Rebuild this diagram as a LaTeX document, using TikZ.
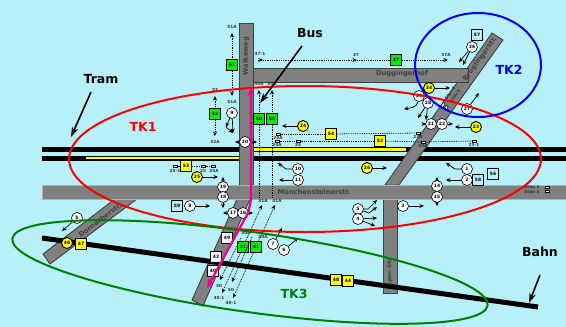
\documentclass[tikz,border=0pt]{standalone}
\usepackage{fontspec}
\setmainfont{DejaVu Sans}
\usetikzlibrary{arrows.meta}
\definecolor{skyback}{HTML}{B8F0FA}
\definecolor{streetgray}{HTML}{808080}
\definecolor{sigyellow}{HTML}{FFFF00}
\definecolor{siggreen}{HTML}{00F000}
\definecolor{tkgreen}{HTML}{008000}

\begin{document}
\begin{tikzpicture}[x=1pt, y=-1pt, >={Stealth[length=4.5pt,width=4pt]},
   street/.style={draw=black!75, line width=0.9pt, fill=streetgray},
   streetname/.style={inner sep=0pt, font=\fontsize{6.7}{7}\selectfont\bfseries, text=black!75},
   track/.style={line width=5pt, black},
   whitecirc/.style={circle, draw, fill=white, line width=0.6pt, minimum size=11pt, inner sep=0pt, font=\fontsize{4.5}{5}\selectfont\bfseries},
   yellowcirc/.style={whitecirc, fill=sigyellow, line width=0.9pt},
   greensq/.style={rectangle, draw, fill=siggreen, line width=0.9pt, minimum size=11pt, inner sep=0pt, font=\fontsize{4.5}{5}\selectfont\bfseries},
   yellowsq/.style={greensq, fill=sigyellow},
   whitesq/.style={greensq, fill=white, line width=0.6pt},
   skysq/.style={greensq, fill=skyback, line width=0.8pt},
   tag/.style={inner sep=0pt, font=\fontsize{4.2}{4.4}\selectfont\bfseries, text=black!80},
   staubox/.style={rectangle, draw, fill=white, line width=0.5pt, minimum width=4.5pt, minimum height=2.4pt, inner sep=0pt},
   arrow/.style={->, line width=0.7pt},
   sigline/.style={densely dotted, line width=0.8pt},
   sigarrow/.style={sigline, ->},
   bigarrow/.style={-{Stealth[length=10pt,width=6.5pt]}, line width=1.6pt},
   tkname/.style={inner sep=0pt, font=\fontsize{12.5}{13}\selectfont\bfseries},
   namelabel/.style={inner sep=0pt, font=\fontsize{12.5}{13}\selectfont\bfseries}
]
\useasboundingbox (0,0) rectangle (566,327);
\fill [skyback] (0,0) rectangle (566,327);

% Tracks
\draw [track] (42,149.5) -- (566,149.5);
\draw [track] (42,158) -- (566,158);
\draw [line width=2.4pt, sigyellow] (86,158) -- (240,158);
\draw [line width=2.4pt, sigyellow] (252,149.5) -- (406,149.5);

% Streets
\fill [street] (492,33) -- (503,40) -- (399,185) -- (385,185) -- cycle;
\fill [street] (253,68) rectangle (468,82);
\fill [street] (239,23) rectangle (253,186);
\fill [street] (237,199) -- (250,199) -- (203,306) -- (192,300) -- cycle;
\fill [street] (115,199) -- (137,199) -- (50,264) -- (43,254) -- cycle;
\fill [street] (383,199) rectangle (397,293);
\fill [street, draw=black!30] (42,185) rectangle (566,199);
\draw [line width=5pt] (42,238) -- (538,307);

\node [streetname, rotate=90] (walke) at (246,56) {Walkeweg};
\node [streetname] (dugg) at (402,74) {Duggingerhof};
\node [streetname, rotate=54] (brueg) at (480,59) {Brüglingerstr.};
\node [streetname] (muench) at (314,192) {Münchensteinerstr.};
\node [streetname, rotate=90, font=\fontsize{5.6}{6}\selectfont\bfseries] (lyon) at (390,272) {Lyon-Str.};
\node [streetname, rotate=37] (dorn) at (100,220) {Dornacherstr.};

% Signals
\node [greensq] (g51) at (232,65) {51};
\node [greensq] (g32) at (215,114) {32};
\node [greensq] (g50) at (259,119) {50};
\node [greensq] (g55) at (272,119) {55};
\node [greensq] (g37) at (396,60) {37};
\node [greensq] (g31) at (243,247) {31};
\node [greensq] (g41) at (256,247) {41};
\node [yellowsq] (y54) at (331,134) {54};
\node [yellowsq] (y52) at (380,141) {52};
\node [yellowsq] (y53) at (186,166) {53};
\node [yellowsq] (y47) at (81,244) {47};
\node [yellowsq] (y48) at (336,280) {48};
\node [yellowsq] (y44) at (348,281) {44};
\node [yellowcirc] (y24) at (303,126) {24};
\node [yellowcirc] (y34) at (429,88) {34};
\node [yellowcirc] (y23) at (476,127) {23};
\node [yellowcirc] (y25) at (197,177) {25};
\node [yellowcirc] (y26) at (367,168) {26};
\node [yellowcirc] (y46) at (67,243) {46};
\node [whitesq] (w49) at (227,238) {49};
\node [whitesq] (w42) at (216,257) {42};
\node [whitesq] (w40) at (213,271) {40};
\node [skysq] (s57) at (477,35) {57};
\node [skysq] (s59) at (177,206) {59};
\node [skysq] (s56) at (493,174) {56};
\node [skysq] (s58) at (478,180) {58};

\node [whitecirc] (c9) at (232,113) {9};
\node [whitecirc] (c20) at (245,142) {20};
\node [whitecirc] (c36) at (472,47) {36};
\node [whitecirc] (c30) at (419,96) {30};
\node [whitecirc] (c28) at (428,103) {28};
\node [whitecirc] (c21) at (431,124) {21};
\node [whitecirc] (c22) at (442,124) {22};
\node [whitecirc] (c27) at (467,109) {27};
\node [whitecirc] (c10) at (298,169) {10};
\node [whitecirc] (c11) at (298,180) {11};
\node [whitecirc] (c19) at (223,187) {19};
\node [whitecirc] (c18) at (223,197) {18};
\node [whitecirc] (c8) at (190,206) {8};
\node [whitecirc] (c17) at (233,213) {17};
\node [whitecirc] (c16) at (243,213) {16};
\node [whitecirc] (c7) at (273,244) {7};
\node [whitecirc] (c6) at (284,250) {6};
\node [whitecirc] (c5) at (358,209) {5};
\node [whitecirc] (c4) at (358,219) {4};
\node [whitecirc] (c3) at (403,206) {3};
\node [whitecirc] (c1) at (467,169) {1};
\node [whitecirc] (c2) at (467,180) {2};
\node [whitecirc] (c14) at (437,186) {14};
\node [whitecirc] (c15) at (437,197) {15};
\node [whitecirc] (c12) at (77,218) {5};

% Small boxes and tags
\node [staubox] (b24a) at (278,134) {};
\node [staubox] (b24b) at (277,141) {};
\node [staubox] (b24c) at (298,141) {};
\node [staubox] (b23a) at (418,133) {};
\node [staubox] (b23b) at (423,142) {};
\node [staubox] (b23c) at (474,141) {};
\node [staubox] (b25a) at (175,166) {};
\node [staubox] (b25b) at (203,166) {};
\node [staubox] (b25c) at (213,166) {};
\node [staubox] (bst1) at (547,187) {};
\node [staubox] (bst3) at (547,191) {};
\node [staubox, rotate=55] (bst4) at (443,105) {};
\node [staubox, rotate=55] (bst5) at (446,108) {};

\node [tag] (t51a) at (232,27) {51A};
\node [tag] (t51b) at (232,102) {51A};
\node [tag] (t32a) at (215,90) {32};
\node [tag] (t32b) at (215,142) {32A};
\node [tag] (t50a) at (259,84) {50A};
\node [tag] (t55a) at (272,84) {55A};
\node [tag] (t37a) at (260,54) {37-1};
\node [tag] (t37b) at (356,55) {37};
\node [tag] (t37c) at (446,55) {37A};
\node [tag] (t24a) at (278,137.5) {24A};
\node [tag] (t24b) at (277,144.5) {24A};
\node [tag] (t24c) at (298,145) {24};
\node [tag] (t23a) at (418,137) {23A};
\node [tag] (t23b) at (423,145.5) {23A};
\node [tag] (t23c) at (474,144.5) {23-1};
\node [tag] (t25a) at (175,170.5) {25-1};
\node [tag] (t25b) at (203,170.5) {25};
\node [tag] (t25c) at (214,170.5) {25A};
\node [tag] (t31a) at (263,201) {31A};
\node [tag] (t41a) at (277,201) {41A};
\node [tag] (t30a) at (246,233) {30A};
\node [tag] (t50b) at (263,237) {50A};
\node [tag] (t30b) at (219,285.5) {30};
\node [tag] (t50c) at (231,289.5) {50};
\node [tag] (t31b) at (219,298) {30-1};
\node [tag] (t41b) at (231,303) {40-1};
\node [tag] (tst1) at (532,187) {Stau 1};
\node [tag] (tst3) at (532,191.5) {Stau 3};
\node [tag, rotate=55] (tst4) at (450,93) {Stau 4};
\node [tag, rotate=55] (tst5) at (455,96) {Stau 5};

% Free ends
\coordinate (h51a) at (232,33);
\coordinate (h51b) at (232,96);
\coordinate (h32a) at (215,96);
\coordinate (h32b) at (215,136);
\coordinate (h50a) at (259,90);
\coordinate (h50b) at (259,198);
\coordinate (h55a) at (272,90);
\coordinate (h55b) at (272,198);
\coordinate (h37a) at (258,60);
\coordinate (h37m) at (263,60);
\coordinate (h37b) at (357,60);
\coordinate (h37c) at (448,60);
\coordinate (h31a) at (262,205);
\coordinate (h31b) at (222,293);
\coordinate (h41a) at (275,205);
\coordinate (h41b) at (233,298);
\coordinate (h30a) at (241,238);
\coordinate (h30b) at (220,280);
\coordinate (h50c) at (252,237);
\coordinate (h50d) at (232,282);
\coordinate (e9a) at (226,127);
\coordinate (e9b) at (233,133);
\coordinate (e20a) at (235,142);
\coordinate (e20b) at (257,142);
\coordinate (e24) at (282,126);
\coordinate (e34) at (450,88);
\coordinate (e36a) at (459,62);
\coordinate (e36b) at (463,65);
\coordinate (e30) at (404,109);
\coordinate (e28a) at (418,118);
\coordinate (e28b) at (426,120);
\coordinate (e21) at (426,124);
\coordinate (e22) at (453,124);
\coordinate (e27) at (479,93);
\coordinate (e23) at (455,127);
\coordinate (e25) at (218,177);
\coordinate (e19) at (223,177);
\coordinate (e18) at (223,208);
\coordinate (e8) at (210,206);
\coordinate (e17) at (223,213);
\coordinate (e16) at (253,213);
\coordinate (e7) at (282,228);
\coordinate (e6) at (298,238);
\coordinate (e10) at (278,163);
\coordinate (e11) at (279,180);
\coordinate (e26) at (387,168);
\coordinate (e5a) at (377,200);
\coordinate (e5b) at (377,207);
\coordinate (e4a) at (377,218);
\coordinate (e4b) at (375,226);
\coordinate (e3) at (424,206);
\coordinate (e1) at (446,163);
\coordinate (e2) at (446,180);
\coordinate (e14) at (437,177);
\coordinate (e15) at (437,206);
\coordinate (e12) at (62,231);

% Connections
\draw [sigarrow, <-] (h51a) -- (g51);
\draw [sigarrow] (g51) -- (h51b);
\draw [sigarrow, <-] (h32a) -- (g32);
\draw [sigarrow] (g32) -- (h32b);
\draw [sigarrow, <-] (h50a) -- (g50);
\draw [sigline] (g50) -- (h50b);
\draw [sigarrow, <-] (h55a) -- (g55);
\draw [sigline] (g55) -- (h55b);
\draw [sigarrow] (h37a) -- (h37m);
\draw [sigarrow] (h37m) -- (h37b);
\draw [sigline] (h37b) -- (g37);
\draw [sigarrow] (g37) -- (h37c);
\draw [sigarrow, <-] (h31a) -- (g31);
\draw [sigarrow] (g31) -- (h31b);
\draw [sigarrow, <-] (h41a) -- (g41);
\draw [sigarrow] (g41) -- (h41b);
\draw [sigarrow] (h30a) -- (h30b);
\draw [sigarrow] (h50c) -- (h50d);
\draw [sigline] (b24a) -- (y54);
\draw [sigline] (y54) -- (b23a);
\draw [sigline] (b24b) -- (b24c);
\draw [sigline] (b24c) -- (y52);
\draw [sigline] (y52) -- (b23b);
\draw [sigline] (b23b) -- (b23c);
\draw [sigline] (b25a) -- (y53);
\draw [sigline] (y53) -- (b25b);
\draw [sigline] (b25b) -- (b25c);

\draw [arrow] (c9) -- (e9a);
\draw [arrow] (c9) -- (e9b);
\draw [arrow] (e9a) -- (e9b);
\draw [arrow] (c20) -- (e20a);
\draw [arrow] (c20) -- (e20b);
\draw [arrow] (y24) -- (e24);
\draw [arrow] (y34) -- (e34);
\draw [arrow] (c36) -- (e36a);
\draw [arrow] (c36) -- (e36b);
\draw [arrow] (c30) to[out=-100, in=10] (e30);
\draw [arrow] (c28) -- (e28a);
\draw [arrow] (c28) -- (e28b);
\draw [arrow] (c21) -- (e21);
\draw [arrow] (c22) -- (e22);
\draw [arrow] (c27) -- (e27);
\draw [arrow] (y23) -- (e23);
\draw [arrow] (y25) -- (e25);
\draw [arrow] (c19) -- (e19);
\draw [arrow] (c18) -- (e18);
\draw [arrow] (c8) -- (e8);
\draw [arrow] (c17) -- (e17);
\draw [arrow] (c16) -- (e16);
\draw [arrow] (c7) -- (e7);
\draw [arrow] (c6) -- (e6);
\draw [arrow] (c10) -- (286,169) -- (e10);
\draw [arrow] (c11) -- (e11);
\draw [arrow] (y26) -- (e26);
\draw [arrow] (c5) -- (368,209) -- (e5a);
\draw [arrow] (c5) -- (369,213) -- (e5b);
\draw [arrow] (c4) -- (e4a);
\draw [arrow] (c4) -- (e4b);
\draw [arrow] (c3) -- (e3);
\draw [arrow] (c1) -- (455,169) -- (e1);
\draw [arrow] (c2) -- (e2);
\draw [arrow] (c14) -- (e14);
\draw [arrow] (c15) -- (e15);
\draw [arrow] (c12) -- (e12);

% Areas
\draw [red, line width=2pt] (305,159) ellipse [x radius=236pt, y radius=73pt];
\draw [blue, line width=2pt] (478,65) ellipse [x radius=63pt, y radius=52pt];
\draw [tkgreen, line width=2pt] (250,272) ellipse [x radius=240pt, y radius=40pt, rotate=-8];
\node [tkname, text=red] (tk1) at (143,127) {TK1};
\node [tkname, text=blue] (tk2) at (509,70) {TK2};
\node [tkname, text=tkgreen] (tk3) at (294,294) {TK3};

% Labels and big arrows
\node [namelabel] (tram) at (101,79) {Tram};
\node [namelabel] (bus) at (310,33) {Bus};
\node [namelabel] (bahn) at (540,252) {Bahn};
\coordinate (tramstart) at (91,92);
\coordinate (tramend) at (71,137);
\coordinate (busstart) at (302,46);
\coordinate (busend) at (260,103);
\coordinate (bahnstart) at (540,275);
\coordinate (bahnend) at (529,303);
\draw [bigarrow] (tramstart) -- (tramend);
\draw [bigarrow] (busstart) -- (busend);
\draw [bigarrow] (bahnstart) -- (bahnend);

\draw [magenta, {Stealth[length=9pt,width=7pt]}-{Stealth[length=9pt,width=7pt]}, line width=2.2pt] (207,288) -- (248,213) -- (251,200) -- (251,87);

\end{tikzpicture}
\end{document}
